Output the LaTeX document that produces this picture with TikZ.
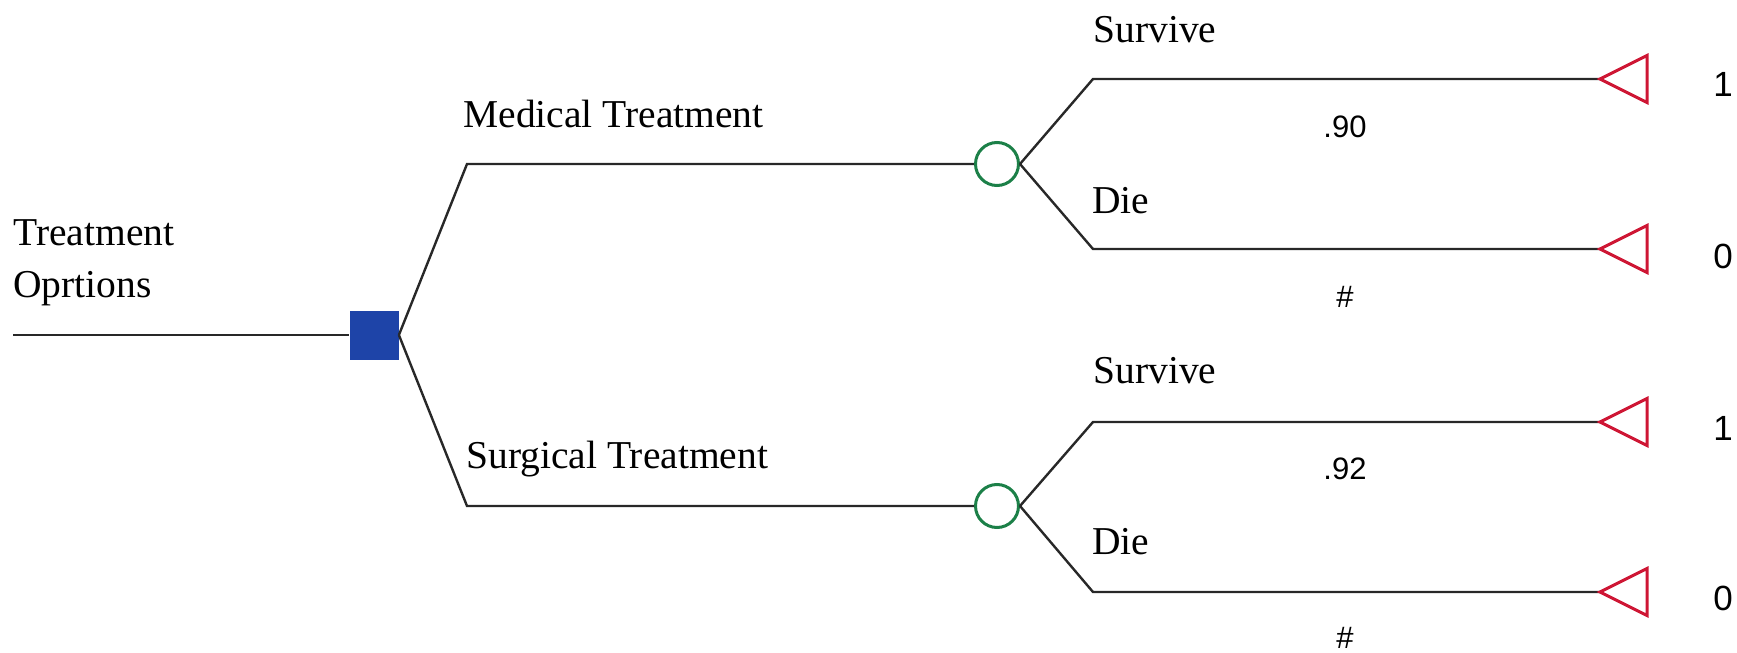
\documentclass[tikz,border=0pt]{standalone}
\usepackage{fontspec}
\setmainfont{Liberation Serif}
\newfontfamily\numfont{Liberation Sans}
\definecolor{edge}{RGB}{40,40,40}
\definecolor{decblue}{RGB}{30,68,168}
\definecolor{chancegreen}{RGB}{28,128,72}
\definecolor{termred}{RGB}{206,22,52}
\begin{document}
\begin{tikzpicture}[x=0.5pt,y=-0.5pt,
  branch/.style={draw=edge,line width=1.2pt},
  decision/.style={rectangle,fill=decblue,minimum size=24.5pt,inner sep=0pt},
  chance/.style={circle,draw=chancegreen,line width=1.5pt,minimum size=21.5pt,inner sep=0pt,fill=white},
  termtri/.style={draw=termred,line width=1.5pt,line join=miter},
  lbl/.style={inner sep=0pt,anchor=base west,font=\fontsize{19.75pt}{22pt}\selectfont},
  prob/.style={inner sep=0pt,anchor=base,font=\numfont\fontsize{15.5pt}{17pt}\selectfont},
  payoff/.style={inner sep=0pt,anchor=base,font=\numfont\fontsize{17.5pt}{20pt}\selectfont}]
\useasboundingbox (0,0) rectangle (1737,653);

% decision and chance nodes
\coordinate (root) at (13,335);
\node[decision] (dec) at (374,335) {};
\node[chance] (cm) at (997,164) {};
\node[chance] (cs) at (997,506) {};

% bends of the branches
\coordinate (bm) at (467,164);
\coordinate (bs) at (467,506);
\coordinate (bms) at (1093,79);
\coordinate (bmd) at (1093,249);
\coordinate (bss) at (1093,422);
\coordinate (bsd) at (1093,592);

% terminal tips
\coordinate (tms) at (1600,79);
\coordinate (tmd) at (1600,249);
\coordinate (tss) at (1600,422);
\coordinate (tsd) at (1600,592);

% branches
\draw[branch] (root) -- (dec.west);
\draw[branch] (dec.east) -- (bm) -- (cm.west);
\draw[branch] (dec.east) -- (bs) -- (cs.west);
\draw[branch] (cm.east) -- (bms) -- (tms);
\draw[branch] (cm.east) -- (bmd) -- (tmd);
\draw[branch] (cs.east) -- (bss) -- (tss);
\draw[branch] (cs.east) -- (bsd) -- (tsd);

% terminal triangles
\foreach \t in {tms,tmd,tss,tsd}
  \draw[termtri] (\t) -- ++(47,-23.5) -- ++(0,47) -- cycle;

% labels
\node[lbl] (l1) at (13,245) {Treatment};
\node[lbl] (l2) at (13,297) {Oprtions};
\node[lbl] (lmed) at (463,127) {Medical Treatment};
\node[lbl] (lsur) at (466,468) {Surgical Treatment};
\node[lbl] (lms) at (1093,42) {Survive};
\node[lbl] (lmd) at (1092,213) {Die};
\node[lbl] (lss) at (1093,383) {Survive};
\node[lbl] (lsd) at (1092,554) {Die};

% probabilities
\node[prob] (pms) at (1345,137) {.90};
\node[prob] (pmd) at (1345,307) {\#};
\node[prob] (pss) at (1345,479) {.92};
\node[prob] (psd) at (1345,648) {\#};

% payoffs
\node[payoff] (vms) at (1723,97) {1};
\node[payoff] (vmd) at (1723,268) {0};
\node[payoff] (vss) at (1723,440) {1};
\node[payoff] (vsd) at (1723,610) {0};
\end{tikzpicture}
\end{document}
